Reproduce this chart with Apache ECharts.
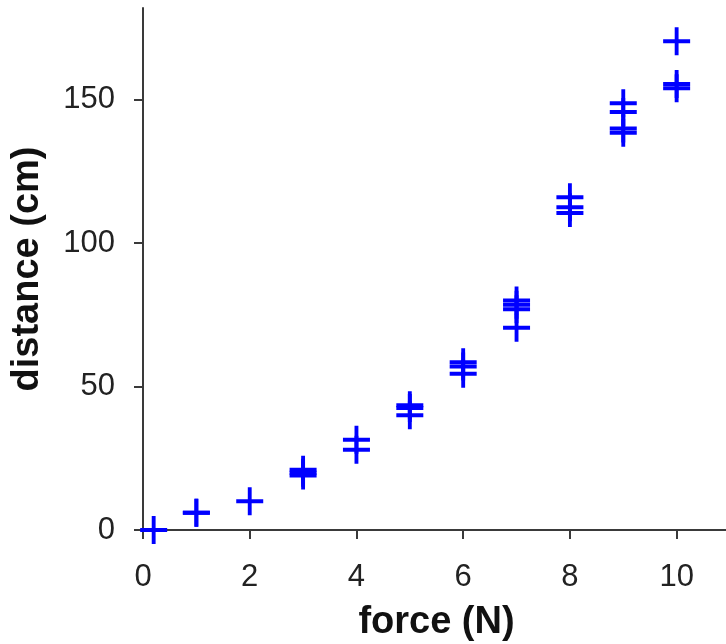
<!DOCTYPE html>
<html>
<head>
<meta charset="utf-8">
<script src="https://cdn.jsdelivr.net/npm/echarts@6/dist/echarts.min.js"></script>
<style>
  html, body { margin: 0; padding: 0; background: #fff; }
  #chart { width: 726px; height: 644px; }
</style>
</head>
<body>
<div id="chart"></div>
<script>
// force (N) / distance (cm) readings
const forceValues = [0.2, 1, 1, 2, 3, 3, 3, 4, 4, 5, 5, 5, 6, 6, 6, 7, 7, 7, 7, 8, 8, 8, 9, 9, 9, 9, 10, 10, 10]
const distanceValues = [0, 6, 6, 10, 19, 20, 21, 28, 31.5, 40, 42.5, 43.5, 54.5, 57, 58.5, 70.5, 77, 78.5, 80, 110.5, 112.5, 116, 138.5, 140, 145.7, 148.8, 154, 155.5, 170.4]
const xTicks = [0, 2, 4, 6, 8, 10]
const yTicks = [0, 50, 100, 150]

const chart = echarts.init(document.getElementById('chart'))

const plusSymbol = 'path://M0,12H28V16H0Z M12,0H16V28H12Z'
const axisColor = '#3a3a3a'
const textColor = '#222'
const font = 'Liberation Sans, Arial, sans-serif'

const option = {
  animation: false,
  grid: {
    left: 143,
    top: 8,
    width: 587,
    height: 522,
    outerBoundsMode: 'none'
  },
  xAxis: {
    type: 'value',
    min: 0,
    max: 11,
    interval: 2,
    name: 'force (N)',
    nameLocation: 'middle',
    nameGap: 74,
    nameTextStyle: {
      color: '#111',
      fontSize: 38,
      fontWeight: 'bold',
      fontFamily: font
    },
    axisLine: { lineStyle: { color: axisColor, width: 2 } },
    axisTick: { length: 9, lineStyle: { color: axisColor, width: 2 }, customValues: xTicks },
    axisLabel: { color: textColor, fontSize: 31, fontFamily: font, margin: 32, customValues: xTicks },
    splitLine: { show: false }
  },
  yAxis: {
    type: 'value',
    min: 0,
    max: 182,
    interval: 50,
    name: 'distance (cm)',
    nameLocation: 'middle',
    nameRotate: 90,
    nameGap: 96,
    nameTextStyle: {
      color: '#111',
      fontSize: 38,
      fontWeight: 'bold',
      fontFamily: font
    },
    axisLine: { lineStyle: { color: axisColor, width: 2 } },
    axisTick: { length: 9, lineStyle: { color: axisColor, width: 2 }, customValues: yTicks },
    axisLabel: { color: textColor, fontSize: 31, fontFamily: font, margin: 28, customValues: yTicks },
    splitLine: { show: false }
  },
  series: [
    {
      type: 'scatter',
      data: forceValues.map((f, i) => [f, distanceValues[i]]),
      symbol: plusSymbol,
      symbolSize: [27, 28],
      itemStyle: { color: '#0000ff', opacity: 1 },
      clip: false
    }
  ]
}

chart.setOption(option)
</script>
</body>
</html>
